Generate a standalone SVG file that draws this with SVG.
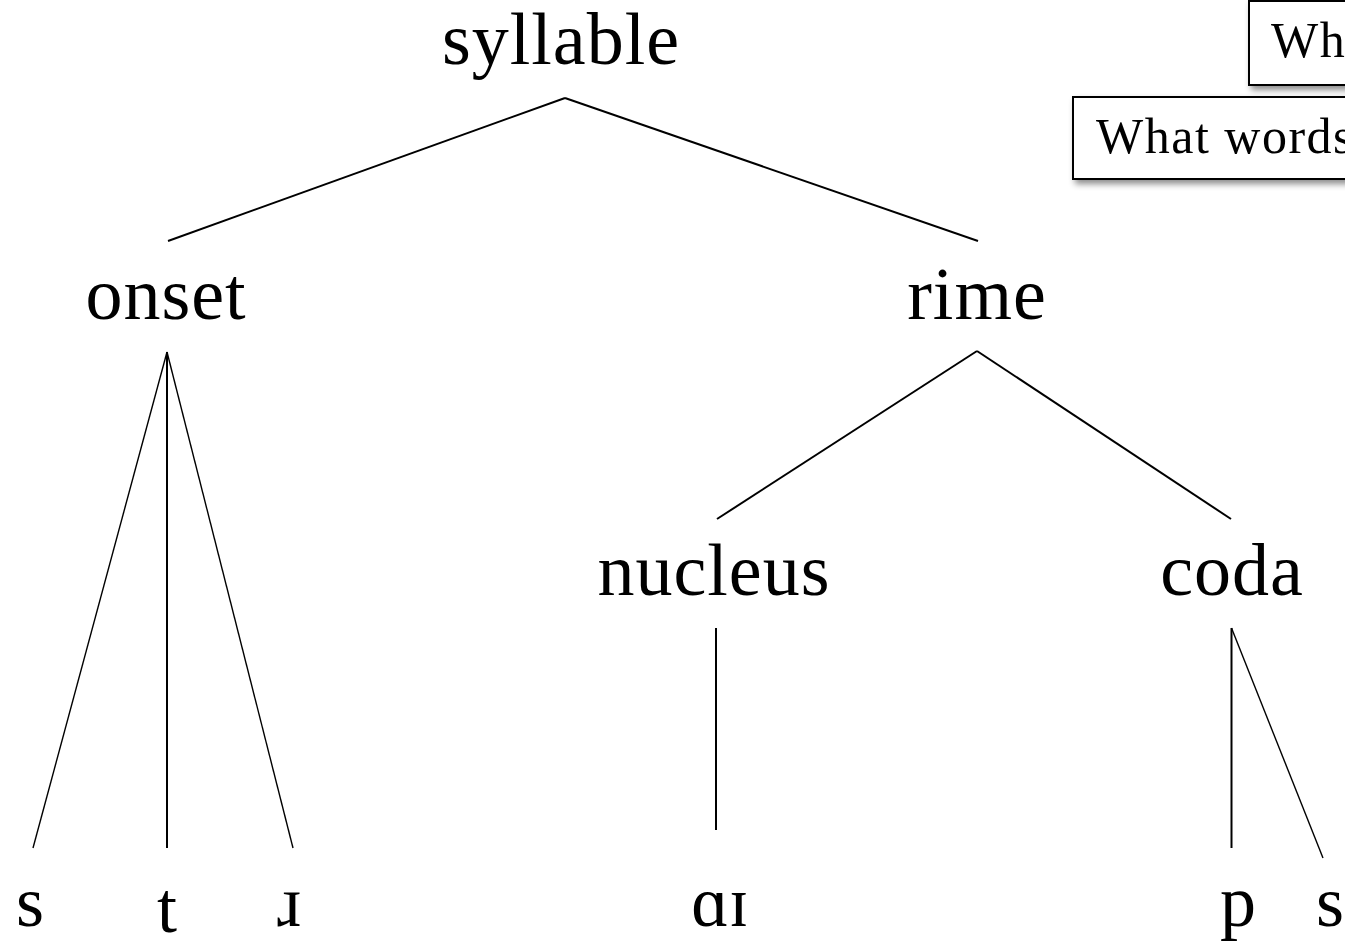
<svg xmlns="http://www.w3.org/2000/svg" width="1345" height="943" viewBox="0 0 1345 943">
<style>
.lbl{font-family:"Liberation Serif","DejaVu Serif",serif;font-size:74px;fill:#000;text-anchor:middle;letter-spacing:1px}
.ipa{font-family:"Liberation Serif","DejaVu Serif",serif;font-size:72px;fill:#000;text-anchor:middle}
.box{fill:#fff;stroke:#000;stroke-width:2}
.btxt{font-family:"Liberation Serif","DejaVu Serif",serif;font-size:50px;fill:#000;letter-spacing:1.5px}
.e{stroke:#000;stroke-width:2;fill:none}
.t{stroke:#000;stroke-width:1.4;fill:none}
</style>
<defs>
<filter id="sh" x="-10%" y="-20%" width="130%" height="150%">
<feDropShadow dx="3" dy="4" stdDeviation="3" flood-color="#000" flood-opacity="0.45"/>
</filter>
</defs>
<rect width="1345" height="943" fill="#fff"/>
<g id="connectors">
<line class="e" x1="565" y1="98" x2="168" y2="241"/>
<line class="e" x1="565" y1="98" x2="978" y2="241"/>
<line class="t" x1="167" y1="352" x2="33" y2="848"/>
<line class="e" x1="167" y1="352" x2="167" y2="848"/>
<line class="t" x1="167" y1="352" x2="293" y2="848"/>
<line class="e" x1="977" y1="351" x2="717" y2="519"/>
<line class="e" x1="977" y1="351" x2="1231" y2="519"/>
<line class="e" x1="716" y1="628" x2="716" y2="830"/>
<line class="e" x1="1231.5" y1="628" x2="1231.5" y2="848"/>
<line class="t" x1="1231.5" y1="628" x2="1323" y2="858"/>
</g>
<g id="n-syllable"><text class="lbl" x="561" y="64">syllable</text></g>
<g id="n-onset"><text class="lbl" x="166" y="319">onset</text></g>
<g id="n-rime"><text class="lbl" x="977" y="319">rime</text></g>
<g id="n-nucleus"><text class="lbl" x="714" y="595">nucleus</text></g>
<g id="n-coda"><text class="lbl" x="1232" y="595">coda</text></g>
<g id="n-s1"><text class="ipa" x="30" y="926">s</text></g>
<g id="n-t"><text class="ipa" x="167" y="932">t</text></g>
<g id="n-r"><text class="ipa" x="289" y="926">ɹ</text></g>
<g id="n-ai"><text class="ipa" x="720" y="926">ɑɪ</text></g>
<g id="n-p"><text class="ipa" x="1238" y="926">p</text></g>
<g id="n-s2"><text class="ipa" x="1330" y="926">s</text></g>
<g id="box1">
<rect class="box" x="1249" y="1" width="120" height="84" filter="url(#sh)"/>
<text class="btxt" x="1271" y="57">Wh</text>
</g>
<g id="box2">
<rect class="box" x="1073" y="97" width="300" height="82" filter="url(#sh)"/>
<text class="btxt" x="1096" y="153">What words</text>
</g>
</svg>
